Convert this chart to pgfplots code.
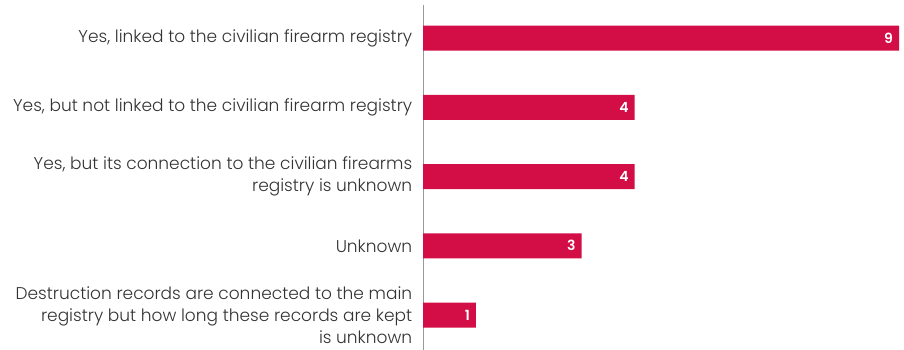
\documentclass[border=0pt]{standalone}
\usepackage{pgfplots}
\pgfplotsset{compat=1.18}
\usepackage{fontspec}
\setmainfont{Poppins}[UprightFont={* Light}, BoldFont={* SemiBold}]
\definecolor{barred}{HTML}{D30D45}
\definecolor{labgray}{HTML}{333333}
\begin{document}
\begin{tikzpicture}
\path[use as bounding box] (0,0) rectangle (904pt,350pt);
\begin{axis}[
  at={(423pt,0pt)}, anchor=south west,
  scale only axis, width=476pt, height=345pt,
  xbar, bar width=25pt,
  xmin=0, xmax=9,
  ymin=-0.477, ymax=4.505, y dir=reverse,
  hide x axis,
  axis y line*=left,
  axis line style={draw=gray!80, line width=0.8pt, -},
  ytick={0,1,2,3,4},
  yticklabels={
    {Yes, linked to the civilian firearm registry},
    {Yes, but not linked to the civilian firearm registry},
    {Yes, but its connection to the civilian firearms\\registry is unknown},
    {Unknown},
    {Destruction records are connected to the main\\registry but how long these records are kept\\is unknown}},
  yticklabel style={align=right, font=\fontsize{17}{22.3}\selectfont, text=labgray, xshift=-3pt},
  ytick style={draw=none},
  nodes near coords,
  /pgf/number format/assume math mode=true,
  nodes near coords style={anchor=east, xshift=-2.5pt, text=white, font=\fontsize{14}{16}\selectfont\bfseries},
]
\addplot[fill=barred, draw=none] coordinates {(9,0) (4,1) (4,2) (3,3) (1,4)};
\end{axis}
\end{tikzpicture}
\end{document}
